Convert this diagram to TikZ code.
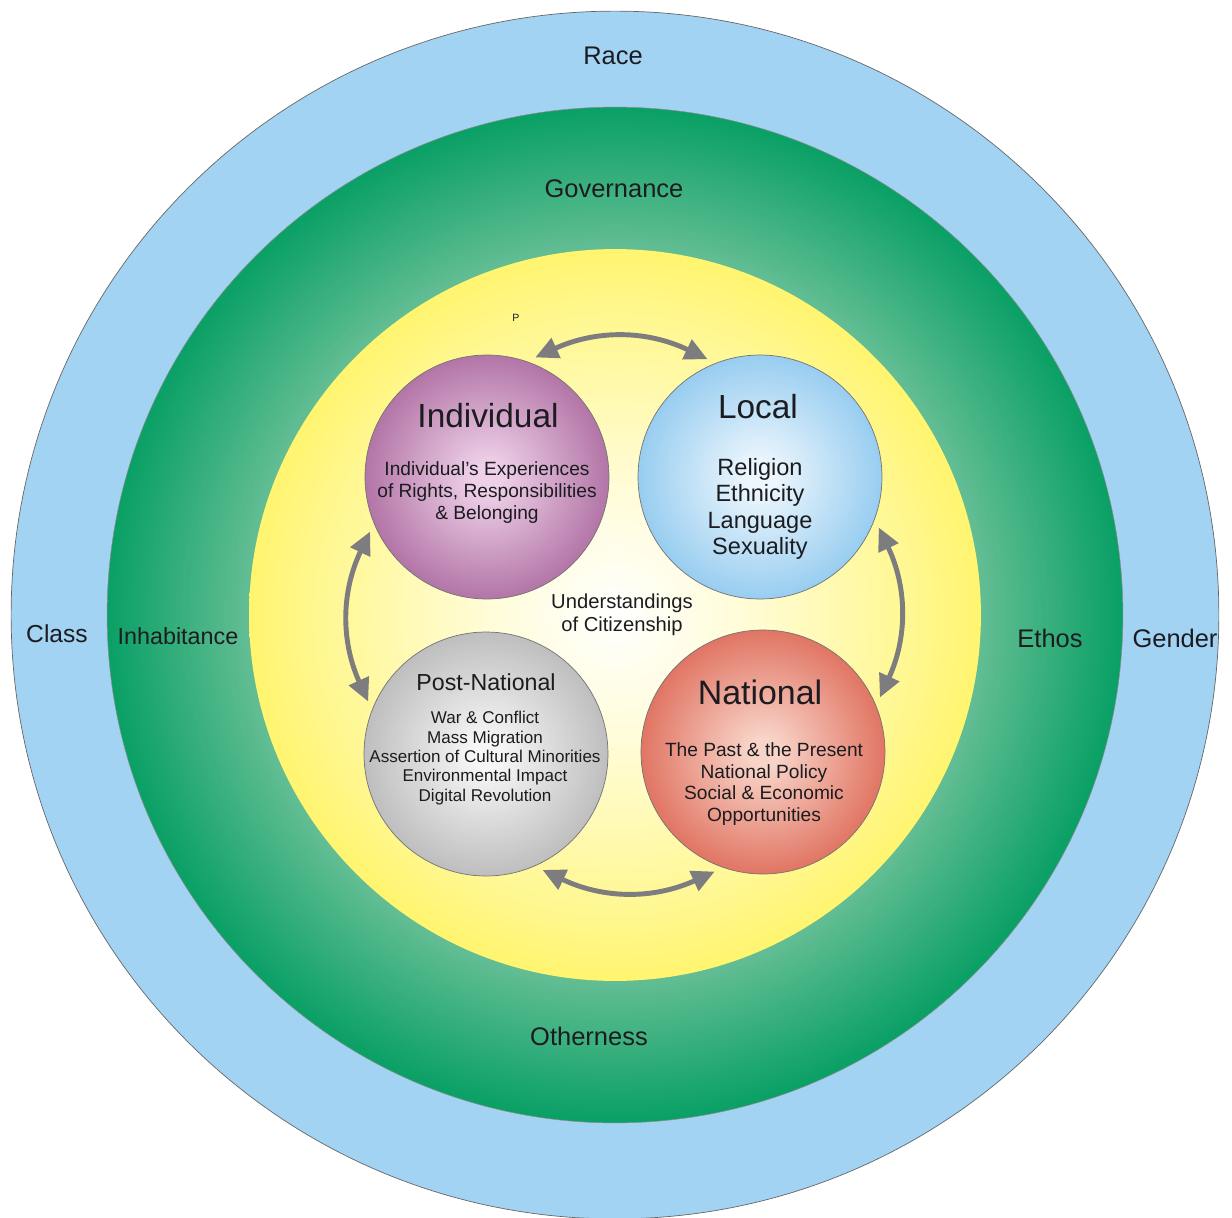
\documentclass[tikz,border=0pt]{standalone}
\usepackage{fontspec}
\setmainfont{Liberation Sans}
\usepackage{xcolor}
\usepackage{tikz}
\usetikzlibrary{arrows.meta}

\definecolor{ink}{RGB}{28,28,32}
\definecolor{ringblue}{RGB}{162,211,243}
\definecolor{greenin}{RGB}{100,190,148}
\definecolor{greenout}{RGB}{10,160,102}
\definecolor{yelpale}{RGB}{255,252,214}
\definecolor{yelmid}{RGB}{255,247,140}
\definecolor{yelfull}{RGB}{255,242,82}
\definecolor{indmid}{RGB}{238,208,232}
\definecolor{indedge}{RGB}{150,74,136}
\definecolor{locmid}{RGB}{236,246,253}
\definecolor{locedge}{RGB}{112,186,234}
\definecolor{pnmid}{RGB}{246,246,246}
\definecolor{pnedge}{RGB}{164,164,164}
\definecolor{natmid}{RGB}{248,212,200}
\definecolor{natedge}{RGB}{214,72,52}
\definecolor{arrowgray}{RGB}{125,125,128}

% the border of a shaded circle sits at about 35bp
\pgfdeclareradialshading{yellowdisc}{\pgfpointorigin}{color(0bp)=(white); color(9bp)=(yelpale); color(21bp)=(yelmid); color(29bp)=(yelfull); color(50bp)=(yelfull)}
\pgfdeclareradialshading{indshade}{\pgfpointorigin}{color(0bp)=(indmid); color(3bp)=(indmid); color(35.4bp)=(indedge); color(50bp)=(indedge)}
\pgfdeclareradialshading{locshade}{\pgfpointorigin}{color(0bp)=(locmid); color(3bp)=(locmid); color(35.4bp)=(locedge); color(50bp)=(locedge)}
\pgfdeclareradialshading{pnshade}{\pgfpointorigin}{color(0bp)=(pnmid); color(3bp)=(pnmid); color(35.4bp)=(pnedge); color(50bp)=(pnedge)}
\pgfdeclareradialshading{natshade}{\pgfpointorigin}{color(0bp)=(natmid); color(3bp)=(natmid); color(35.4bp)=(natedge); color(50bp)=(natedge)}

\tikzstyle{ball}=[circle,shade,draw=black!55,line width=0.4pt,minimum size=4.88cm,inner sep=0pt,outer sep=0.14cm]
\tikzstyle{head}=[text=ink,font=\fontsize{19}{22}\selectfont]
\tikzstyle{sub}=[text=ink,align=center]
\tikzstyle{ring}=[text=ink,font=\fontsize{14.5}{17}\selectfont]
\tikzstyle{link}=[<->,draw=arrowgray,line width=2.8pt]

\begin{document}
\begin{tikzpicture}[
            x=0.02cm, y=-0.02cm,
            >={Triangle[length=13pt,width=12pt]}
        ]
        \useasboundingbox (0,0) rectangle (1232,1218);
        \fill[ringblue, draw=black!60, line width=0.4pt] (615,615) circle (12.08cm);
        % green ring, dark outside and lighter towards the middle
        \foreach \i [evaluate=\i as \r using 10.16-\i*0.071,
                     evaluate=\i as \m using \i*2.5] in {0,...,40}
            \fill[greenin!\m!greenout] (615,615) circle (\r cm);
        \draw[black!45, line width=0.3pt] (615,615) circle (10.16cm);
        \shade[shading=yellowdisc] (615,615) circle (7.32cm);

        \node [ring] (race) at (613,56)   {Race};
        \node [ring] (gov)  at (614,189)  {Governance};
        \node [ring, font=\fontsize{14}{17}\selectfont] (cls) at (57,634) {Class};
        \node [ring, font=\fontsize{13.3}{16}\selectfont] (inh) at (178,636) {Inhabitance};
        \node [ring] (eth)  at (1050,638) {Ethos};
        \node [ring] (gen)  at (1175,638) {Gender};
        \node [ring] (oth)  at (589,1036) {Otherness};

        \node [ball, shading=indshade] (ind) at (487,477) {};
        \node [ball, shading=locshade] (loc) at (760,477) {};
        \node [ball, shading=pnshade]  (pn)  at (486,754) {};
        \node [ball, shading=natshade] (nat) at (763,752) {};

        \node [head] (indh) at (488,416) {Individual};
        \node [sub, font=\fontsize{10.9}{12.5}\selectfont] (indt) at (487,493)
              {Individual's Experiences\\of Rights, Responsibilities\\\& Belonging};
        \node [head] (loch) at (758,407) {Local};
        \node [sub, font=\fontsize{13.4}{15.1}\selectfont] (loct) at (760,509)
              {Religion\\Ethnicity\\Language\\Sexuality};
        \node [head, font=\fontsize{13.2}{15}\selectfont] (pnh) at (486,682) {Post-National};
        \node [sub, font=\fontsize{9.7}{11}\selectfont] (pnt) at (485,758)
              {War \& Conflict\\Mass Migration\\Assertion of Cultural Minorities\\Environmental Impact\\Digital Revolution};
        \node [head, font=\fontsize{19.3}{22}\selectfont] (nath) at (760,692) {National};
        \node [sub, font=\fontsize{10.9}{12.3}\selectfont] (natt) at (764,784)
              {The Past \& the Present\\National Policy\\Social \& Economic\\Opportunities};

        \node [sub, font=\fontsize{11.5}{13}\selectfont] (cit) at (622,615) {Understandings\\of Citizenship};
        \node [text=ink, font=\fontsize{6}{7}\selectfont] (p) at (516,318) {P};

        \draw[link] (ind.68)  to[bend left=25]  (loc.114);
        \draw[link] (ind.205) to[bend right=25] (pn.156);
        \draw[link] (loc.337) to[bend left=25]  (nat.25);
        \draw[link] (pn.296)  to[bend right=25] (nat.248);
    \end{tikzpicture}
\end{document}
